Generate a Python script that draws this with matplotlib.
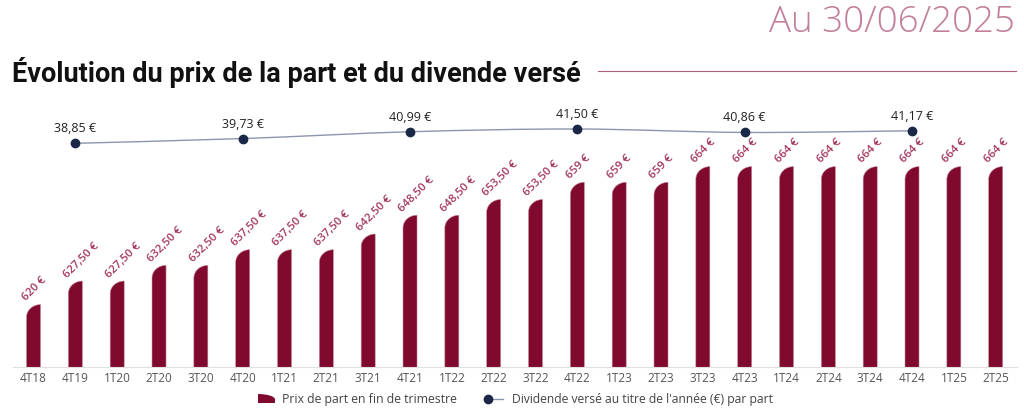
"""
Évolution du prix de la part et du dividende versé (au 30/06/2025).
"""

import matplotlib.pyplot as plt
from matplotlib.lines import Line2D
from matplotlib.patches import PathPatch
from matplotlib.path import Path


QUARTERS = [
    "4T18", "4T19", "1T20", "2T20", "3T20", "4T20", "1T21", "2T21",
    "3T21", "4T21", "1T22", "2T22", "3T22", "4T22", "1T23", "2T23",
    "3T23", "4T23", "1T24", "2T24", "3T24", "4T24", "1T25", "2T25",
]
PRICES = [
    620, 627.5, 627.5, 632.5, 632.5, 637.5, 637.5, 637.5,
    642.5, 648.5, 648.5, 653.5, 653.5, 659, 659, 659,
    664, 664, 664, 664, 664, 664, 664, 664,
]

DIVIDEND_QUARTERS = ["4T19", "4T20", "4T21", "4T22", "4T23", "4T24"]
DIVIDENDS = [38.85, 39.73, 40.99, 41.50, 40.86, 41.17]

BAR_COLOR = "#7F0A2D"
BAR_LABEL_COLOR = "#A3365F"
LINE_COLOR = "#8C95AD"
MARKER_COLOR = "#1A2747"
TEXT_COLOR = "#555555"
FONT = ["Open Sans", "DejaVu Sans"]

plt.rcParams["font.family"] = FONT


def fmt_euro(v):
    if float(v).is_integer():
        return f"{int(v)} €"
    return f"{v:.2f}".replace(".", ",") + " €"


def rounded_bar(x0, x1, bottom, top, rh):
    """Bar with the top-left corner rounded as a quarter ellipse."""
    k = 0.5523
    w = x1 - x0
    verts = [
        (x0, bottom), (x1, bottom), (x1, top),
        (x1 - k * w, top), (x0, top - rh * (1 - k)), (x0, top - rh),
        (x0, bottom), (x0, bottom),
    ]
    codes = [
        Path.MOVETO, Path.LINETO, Path.LINETO,
        Path.CURVE4, Path.CURVE4, Path.CURVE4,
        Path.LINETO, Path.CLOSEPOLY,
    ]
    return Path(verts, codes)


def smooth_path(xs, ys, t=1 / 6):
    """Cardinal spline through the points, as cubic Bezier segments."""
    pts = list(zip(xs, ys))
    verts = [pts[0]]
    codes = [Path.MOVETO]
    n = len(pts)
    for i in range(n - 1):
        p0 = pts[max(i - 1, 0)]
        p1 = pts[i]
        p2 = pts[i + 1]
        p3 = pts[min(i + 2, n - 1)]
        c1 = (p1[0] + (p2[0] - p0[0]) * t, p1[1] + (p2[1] - p0[1]) * t)
        c2 = (p2[0] - (p3[0] - p1[0]) * t, p2[1] - (p3[1] - p1[1]) * t)
        verts += [c1, c2, p2]
        codes += [Path.CURVE4] * 3
    return Path(verts, codes)


def main() -> None:
    W, H = 1024, 414
    fig = plt.figure(figsize=(W / 100, H / 100), dpi=100)

    # axes box in pixels
    left, right, base, top = 12.6, 1016.6, 368.3, 110
    ax = fig.add_axes([left / W, 1 - base / H, (right - left) / W, (base - top) / H])
    height_px = base - top

    y_min = 600
    ax.set_ylim(y_min, y_min + height_px / 3.136)
    ax.set_xlim(-0.5, len(QUARTERS) - 0.5)

    bar_w = 0.335
    round_h = 4.0
    for i, v in enumerate(PRICES):
        path = rounded_bar(i - bar_w / 2, i + bar_w / 2, y_min, v, round_h)
        ax.add_patch(PathPatch(path, facecolor=BAR_COLOR, edgecolor="#C78A9E",
                               linewidth=0.4, zorder=2))
        ax.annotate(fmt_euro(v), xy=(i - bar_w / 2, v), xytext=(1, 1.5),
                    textcoords="offset points", rotation=45,
                    rotation_mode="anchor", ha="left", va="bottom",
                    fontsize=8.2, fontweight="semibold", color=BAR_LABEL_COLOR)

    ax.set_xticks(range(len(QUARTERS)))
    ax.set_xticklabels(QUARTERS, fontsize=8.5, color=TEXT_COLOR)
    ax.tick_params(axis="x", length=0, pad=3)
    ax.set_yticks([])
    for side in ("left", "right", "top"):
        ax.spines[side].set_visible(False)
    ax.spines["bottom"].set_color("#E0E0E0")
    ax.spines["bottom"].set_linewidth(0.8)

    # dividend line on a second scale
    ax2 = ax.twinx()
    px_per_eur = 5.4
    d_min = 41.50 - (base - 130) / px_per_eur
    ax2.set_ylim(d_min, d_min + height_px / px_per_eur)
    ax2.set_yticks([])
    for side in ("left", "right", "top", "bottom"):
        ax2.spines[side].set_visible(False)

    dx = [QUARTERS.index(q) for q in DIVIDEND_QUARTERS]
    ax2.add_patch(PathPatch(smooth_path(dx, DIVIDENDS), facecolor="none",
                            edgecolor=LINE_COLOR, linewidth=1.0, zorder=3))
    ax2.plot(dx, DIVIDENDS, linestyle="none", marker="o", markersize=6,
             color=MARKER_COLOR, zorder=4)
    for x, v in zip(dx, DIVIDENDS):
        ax2.annotate(fmt_euro(v), xy=(x, v), xytext=(0, 6.5),
                     textcoords="offset points", ha="center", va="bottom",
                     fontsize=9, color="#222222")

    # header
    fig.text(1015 / W, 1 - 22 / H, "Au 30/06/2025", ha="right", va="center",
             fontsize=26.5, color="#C27E9A", fontweight="light")
    fig.text(12 / W, 1 - 72 / H,
             "Évolution du prix de la part et du divende versé",
             ha="left", va="center", fontsize=19.5, fontweight="bold",
             color="#111111", family=["Roboto", "DejaVu Sans"])
    fig.add_artist(Line2D([598 / W, 1016 / W], [1 - 72 / H, 1 - 72 / H],
                          transform=fig.transFigure, color="#A9607F",
                          linewidth=0.8))

    # legend drawn by hand
    ly = 1 - 400 / H
    sw = rounded_bar(0, 1, 0, 1, 0.6)
    sw_verts = [(275 - (x * 17), 404 - y * 9) for x, y in sw.vertices]
    sw_verts = [(x / W, 1 - y / H) for x, y in sw_verts]
    fig.add_artist(PathPatch(Path(sw_verts, sw.codes), transform=fig.transFigure,
                             facecolor=BAR_COLOR, edgecolor="none"))
    fig.text(282 / W, ly, "Prix de part en fin de trimestre", ha="left",
             va="center", fontsize=8.8, color="#444444")
    fig.add_artist(Line2D([488 / W, 503 / W], [ly, ly], transform=fig.transFigure,
                          color=LINE_COLOR, linewidth=1.0))
    fig.add_artist(Line2D([488 / W], [ly], transform=fig.transFigure,
                          marker="o", markersize=6, color=MARKER_COLOR))
    fig.text(512 / W, ly, "Dividende versé au titre de l'année (€) par part",
             ha="left", va="center", fontsize=8.7, color="#444444")

    fig.savefig("out.png", dpi=100)


if __name__ == "__main__":
    main()
